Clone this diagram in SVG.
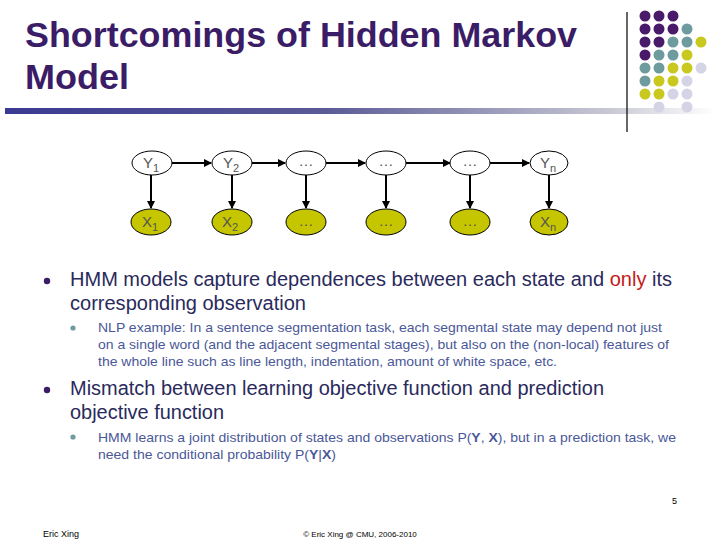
<svg xmlns="http://www.w3.org/2000/svg" width="720" height="540" viewBox="0 0 720 540">
<defs>
<linearGradient id="bar" x1="0" x2="1" y1="0" y2="0">
<stop offset="0" stop-color="#3a3a92"/><stop offset="0.45" stop-color="#5a5a96"/><stop offset="0.85" stop-color="#c8c8d4"/><stop offset="1" stop-color="#ffffff"/>
</linearGradient>
<marker id="ah" markerWidth="8" markerHeight="8" refX="7" refY="4" orient="auto" markerUnits="userSpaceOnUse"><path d="M0,0 L8,4 L0,8 z" fill="#000"/></marker>
<style>
.t{font-family:"Liberation Sans",Arial,sans-serif}
.title{font-size:35px;font-weight:bold;fill:#3b1c66}
.b1{font-size:19.5px;fill:#2a2a5c}
.b2{font-size:13px;fill:#4a5898}
.y{fill:#fff;stroke:#000;stroke-width:1}
.x{fill:#c6c600;stroke:#000;stroke-width:1}
.nl{font-size:15px;fill:#555}
.c line{stroke:#000;stroke-width:2;marker-end:url(#ah)}
.P{fill:#4a1a6a}.T{fill:#6e9c9e}.Y{fill:#c8c81e}.L{fill:#d4d4e6}
</style>
</defs>
<rect width="720" height="540" fill="#fff"/>
<rect x="5" y="108" width="710" height="6" fill="url(#bar)"/>
<line x1="627" y1="12" x2="627" y2="132" stroke="#000" stroke-width="1.2"/>
<g>
<circle class="P" cx="645" cy="16" r="5.5"/><circle class="P" cx="659" cy="16" r="5.5"/><circle class="P" cx="673" cy="16" r="5.5"/>
<circle class="P" cx="645" cy="29" r="5.5"/><circle class="P" cx="659" cy="29" r="5.5"/><circle class="P" cx="673" cy="29" r="5.5"/><circle class="T" cx="687" cy="29" r="5.5"/>
<circle class="P" cx="645" cy="42" r="5.5"/><circle class="P" cx="659" cy="42" r="5.5"/><circle class="T" cx="673" cy="42" r="5.5"/><circle class="T" cx="687" cy="42" r="5.5"/><circle class="Y" cx="701" cy="42" r="5.5"/>
<circle class="P" cx="645" cy="55" r="5.5"/><circle class="T" cx="659" cy="55" r="5.5"/><circle class="T" cx="673" cy="55" r="5.5"/><circle class="Y" cx="687" cy="55" r="5.5"/>
<circle class="T" cx="645" cy="68" r="5.5"/><circle class="T" cx="659" cy="68" r="5.5"/><circle class="Y" cx="673" cy="68" r="5.5"/><circle class="Y" cx="687" cy="68" r="5.5"/><circle class="L" cx="701" cy="68" r="5.5"/>
<circle class="T" cx="645" cy="81" r="5.5"/><circle class="Y" cx="659" cy="81" r="5.5"/><circle class="Y" cx="673" cy="81" r="5.5"/><circle class="L" cx="687" cy="81" r="5.5"/>
<circle class="Y" cx="645" cy="94" r="5.5"/><circle class="Y" cx="659" cy="94" r="5.5"/><circle class="L" cx="673" cy="94" r="5.5"/><circle class="L" cx="687" cy="94" r="5.5"/>
<circle class="L" cx="659" cy="107" r="5.5"/><circle class="L" cx="687" cy="107" r="5.5"/>
</g>
<text class="t title" x="25" y="47" textLength="552" lengthAdjust="spacingAndGlyphs">Shortcomings of Hidden Markov</text>
<text class="t title" x="25" y="89" textLength="104" lengthAdjust="spacingAndGlyphs">Model</text>
<g class="c">
<line x1="172" y1="163" x2="211" y2="163"/><line x1="252" y1="163" x2="285" y2="163"/><line x1="326" y1="163" x2="365" y2="163"/><line x1="406" y1="163" x2="450" y2="163"/><line x1="490" y1="163" x2="529" y2="163"/>
<line x1="151" y1="175" x2="151" y2="208"/><line x1="232" y1="175" x2="232" y2="208"/><line x1="306" y1="175" x2="306" y2="208"/><line x1="386" y1="175" x2="386" y2="208"/><line x1="470" y1="175" x2="470" y2="208"/><line x1="549" y1="175" x2="549" y2="208"/>
</g>
<g id="Y1"><ellipse class="y" cx="152" cy="163" rx="20" ry="12"/><text class="t nl" x="143" y="168">Y<tspan font-size="11" dy="4">1</tspan></text></g>
<g id="Y2"><ellipse class="y" cx="232" cy="163" rx="20" ry="12"/><text class="t nl" x="223" y="168">Y<tspan font-size="11" dy="4">2</tspan></text></g>
<g id="Y3"><ellipse class="y" cx="306" cy="163" rx="20" ry="12"/><text class="t nl" x="306" y="166" text-anchor="middle">…</text></g>
<g id="Y4"><ellipse class="y" cx="386" cy="163" rx="20" ry="12"/><text class="t nl" x="386" y="166" text-anchor="middle">…</text></g>
<g id="Y5"><ellipse class="y" cx="470" cy="163" rx="20" ry="12"/><text class="t nl" x="470" y="166" text-anchor="middle">…</text></g>
<g id="Yn"><ellipse class="y" cx="549" cy="163" rx="19" ry="12"/><text class="t nl" x="540" y="168">Y<tspan font-size="11" dy="4">n</tspan></text></g>
<g id="X1"><ellipse class="x" cx="151" cy="222" rx="20" ry="13"/><text class="t nl" x="142" y="227">X<tspan font-size="11" dy="4">1</tspan></text></g>
<g id="X2"><ellipse class="x" cx="232" cy="222" rx="20" ry="13"/><text class="t nl" x="222" y="227">X<tspan font-size="11" dy="4">2</tspan></text></g>
<g id="X3"><ellipse class="x" cx="306" cy="222" rx="20" ry="13"/><text class="t nl" x="306" y="226" text-anchor="middle">…</text></g>
<g id="X4"><ellipse class="x" cx="386" cy="222" rx="20" ry="13"/><text class="t nl" x="386" y="226" text-anchor="middle">…</text></g>
<g id="X5"><ellipse class="x" cx="470" cy="222" rx="20" ry="13"/><text class="t nl" x="470" y="226" text-anchor="middle">…</text></g>
<g id="Xn"><ellipse class="x" cx="549" cy="222" rx="19" ry="13"/><text class="t nl" x="540" y="227">X<tspan font-size="11" dy="4">n</tspan></text></g>
<circle cx="47" cy="281" r="3.2" fill="#3b1c66"/>
<text class="t b1" x="70" y="286" textLength="602" lengthAdjust="spacingAndGlyphs">HMM models capture dependences between each state and <tspan fill="#c41a1a">only</tspan> its</text>
<text class="t b1" x="70" y="310" textLength="236" lengthAdjust="spacingAndGlyphs">corresponding observation</text>
<circle cx="73" cy="328" r="2.6" fill="#6e9c9e"/>
<text class="t b2" x="98" y="332" textLength="564" lengthAdjust="spacingAndGlyphs">NLP example: In a sentence segmentation task, each segmental state may depend not just</text>
<text class="t b2" x="98" y="349" textLength="571" lengthAdjust="spacingAndGlyphs">on a single word (and the adjacent segmental stages), but also on the (non-local) features of</text>
<text class="t b2" x="98" y="366" textLength="459" lengthAdjust="spacingAndGlyphs">the whole line such as line length, indentation, amount of white space, etc.</text>
<circle cx="47" cy="390" r="3.2" fill="#3b1c66"/>
<text class="t b1" x="70" y="395" textLength="534" lengthAdjust="spacingAndGlyphs">Mismatch between learning objective function and prediction</text>
<text class="t b1" x="70" y="419" textLength="154" lengthAdjust="spacingAndGlyphs">objective function</text>
<circle cx="73" cy="437" r="2.6" fill="#6e9c9e"/>
<text class="t b2" x="98" y="442" textLength="578" lengthAdjust="spacingAndGlyphs">HMM learns a joint distribution of states and observations P(<tspan font-weight="bold">Y</tspan>, <tspan font-weight="bold">X</tspan>), but in a prediction task, we</text>
<text class="t b2" x="98" y="459" textLength="238" lengthAdjust="spacingAndGlyphs">need the conditional probability P(<tspan font-weight="bold">Y</tspan>|<tspan font-weight="bold">X</tspan>)</text>
<text class="t" x="677" y="504" font-size="9" fill="#000" text-anchor="end">5</text>
<text class="t" x="43" y="537" font-size="9" fill="#000">Eric Xing</text>
<text class="t" x="360" y="537" font-size="8" fill="#000" text-anchor="middle">© Eric Xing @ CMU, 2006-2010</text>
</svg>
